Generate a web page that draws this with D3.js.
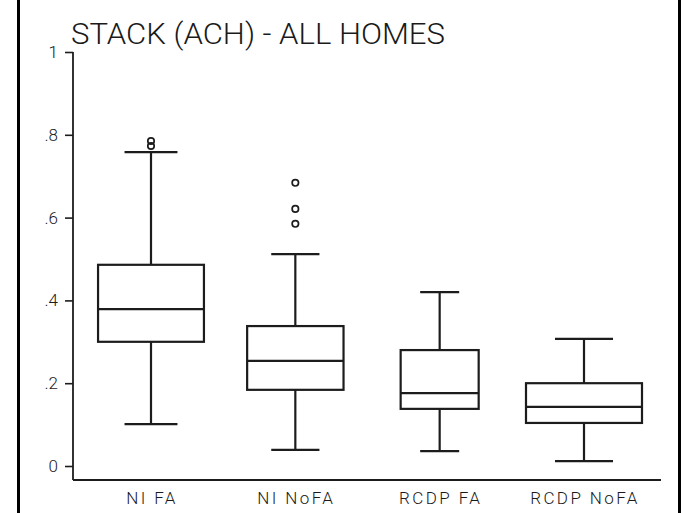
<!DOCTYPE html>
<html>
<head>
<meta charset="utf-8">
<script src="https://cdn.jsdelivr.net/npm/d3@7"></script>
<style>
  html, body { margin: 0; padding: 0; background: #fff; }
  svg { display: block; }
  text { font-family: "Roboto", "Liberation Sans", sans-serif; fill: #1a1a1a; }
</style>
</head>
<body>
<svg id="chart" width="684" height="513"></svg>
<script>
// ---- data ----
const title = "STACK (ACH) - ALL HOMES";
const categories = ["NI FA", "NI NoFA", "RCDP FA", "RCDP NoFA"];
const whiskerLow  = [0.101, 0.039, 0.036, 0.012];
const q1          = [0.300, 0.184, 0.138, 0.104];
const median      = [0.379, 0.254, 0.176, 0.143];
const q3          = [0.486, 0.338, 0.280, 0.200];
const whiskerHigh = [0.758, 0.512, 0.420, 0.307];
const outliers    = [[0.785, 0.773], [0.684, 0.621, 0.585], [], []];
const sampleSize  = [35, 29, 19, 42];   // box width ~ sqrt(n)
const yTicks = [0, 0.2, 0.4, 0.6, 0.8, 1];
const yTickLabels = ["0", ".2", ".4", ".6", ".8", "1"];

// ---- drawing ----
const svg = d3.select("#chart");
const ink = "#1c1c1c";

const y = d3.scaleLinear().domain([0, 1]).range([466, 52]);
const x = d3.scalePoint().domain(categories).range([151, 584]);
const w = d3.scaleSqrt().domain([0, d3.max(sampleSize)]).range([0, 116]);

// frame (left / right borders of the scanned page)
svg.append("line").attr("x1", 18.5).attr("x2", 18.5).attr("y1", 0).attr("y2", 513)
  .attr("stroke", "#000").attr("stroke-width", 3);
svg.append("line").attr("x1", 679.5).attr("x2", 679.5).attr("y1", 0).attr("y2", 513)
  .attr("stroke", "#000").attr("stroke-width", 3);

// title
svg.append("text").attr("x", 71).attr("y", 44)
  .attr("font-size", 29).attr("font-weight", 300)
  .attr("textLength", 374).attr("lengthAdjust", "spacingAndGlyphs")
  .text(title);

// y axis
const yAxis = d3.axisLeft(y).tickValues(yTicks)
  .tickFormat((d, i) => yTickLabels[i]).tickSize(8).tickPadding(7);
const gy = svg.append("g").attr("transform", "translate(73,0)").call(yAxis);
gy.select(".domain").remove();
gy.selectAll(".tick line").attr("stroke", ink).attr("stroke-width", 1.6);
gy.selectAll(".tick text").attr("font-size", 17).attr("fill", ink)
  .style("font-family", "Roboto, 'Liberation Sans', sans-serif").attr("font-weight", 300);
// vertical axis line down to the baseline
svg.append("line").attr("x1", 73).attr("x2", 73).attr("y1", y(1)).attr("y2", 480)
  .attr("stroke", ink).attr("stroke-width", 1.8);

// x baseline
svg.append("line").attr("x1", 73).attr("x2", 661).attr("y1", 480).attr("y2", 480)
  .attr("stroke", ink).attr("stroke-width", 1.8);

// x labels
svg.append("g").selectAll("text").data(categories).join("text")
  .attr("x", d => x(d) + 1).attr("y", 504)
  .attr("text-anchor", "middle").attr("font-size", 17).attr("font-weight", 300)
  .attr("letter-spacing", 2.4)
  .text(d => d);

// boxes
const boxes = svg.append("g").selectAll("g").data(categories).join("g");
boxes.each(function(c, i) {
  const g = d3.select(this);
  const cx = x(c), bw = w(sampleSize[i]), cw = bw / 2;
  const line = (x1, y1, x2, y2) => g.append("line")
    .attr("x1", x1).attr("y1", y1).attr("x2", x2).attr("y2", y2)
    .attr("stroke", ink).attr("stroke-width", 2.2);
  // whiskers
  line(cx, y(q3[i]), cx, y(whiskerHigh[i]));
  line(cx, y(q1[i]), cx, y(whiskerLow[i]));
  line(cx - cw / 2, y(whiskerHigh[i]), cx + cw / 2, y(whiskerHigh[i]));
  line(cx - cw / 2, y(whiskerLow[i]), cx + cw / 2, y(whiskerLow[i]));
  // box
  g.append("rect").attr("x", cx - bw / 2).attr("y", y(q3[i]))
    .attr("width", bw).attr("height", y(q1[i]) - y(q3[i]))
    .attr("fill", "none").attr("stroke", ink).attr("stroke-width", 2.2);
  // median
  line(cx - bw / 2, y(median[i]), cx + bw / 2, y(median[i]));
  // outliers
  g.selectAll("circle").data(outliers[i]).join("circle")
    .attr("cx", cx).attr("cy", d => y(d)).attr("r", 3.2)
    .attr("fill", "none").attr("stroke", ink).attr("stroke-width", 1.7);
});
</script>
</body>
</html>
